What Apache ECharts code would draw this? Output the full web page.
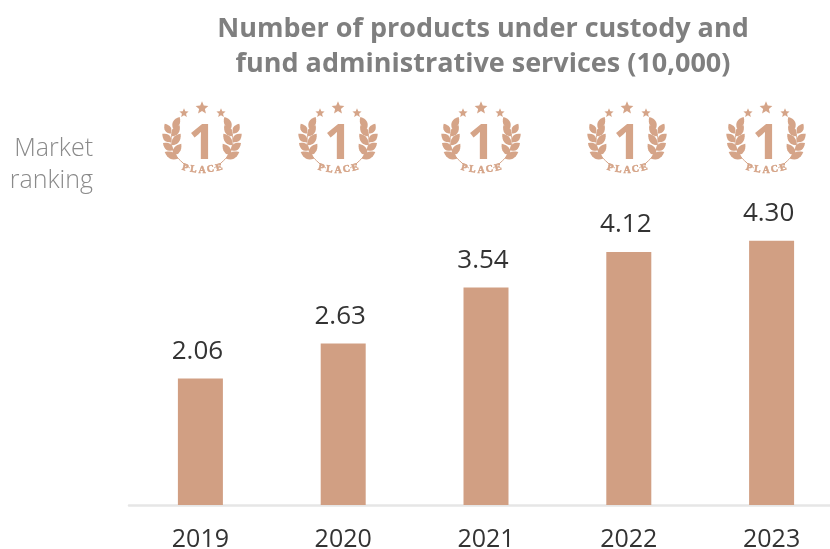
<!DOCTYPE html>
<html>
<head>
<meta charset="utf-8">
<style>html,body{margin:0;padding:0;background:#fff}#chart{width:830px;height:549px}</style>
<script src="https://cdn.jsdelivr.net/npm/echarts@6/dist/echarts.min.js"></script>
</head>
<body>
<div id="chart"></div>
<script>
// Products under custody and fund administration, in units of 10,000
const years = ['2019', '2020', '2021', '2022', '2023'];
const products = [2.06, 2.63, 3.54, 4.12, 4.30];
const rankings = ['1', '1', '1', '1', '1'];
const badgeCentres = [203, 339, 482, 628, 767];

const BAR = '#d19f83';
const BADGE = '#d5a488';
const FONT = '"Open Sans", sans-serif';

// One laurel leaf from base to tip, outlined by two quadratic curves
function leaf(x, y, tipX, tipY, width) {
  const dx = tipX - x, dy = tipY - y;
  const len = Math.hypot(dx, dy);
  const nx = -dy / len, ny = dx / len;
  const points = [];
  const steps = 8;
  const edge = (t, side) => {
    const b = 2 * t * (1 - t) * width * side;
    const along = 2 * t * (1 - t) * 0.45 + t * t;
    return [x + dx * along + nx * b, y + dy * along + ny * b];
  };
  for (let i = 0; i <= steps; i++) points.push(edge(i / steps, 1));
  for (let i = steps - 1; i > 0; i--) points.push(edge(i / steps, -1));
  return { type: 'polygon', shape: { points }, style: { fill: BADGE } };
}

// Five-pointed star as a polygon
function star(x, y, r) {
  const points = [];
  for (let i = 0; i < 10; i++) {
    const a = -Math.PI / 2 + i * Math.PI / 5;
    const d = i % 2 ? r * 0.45 : r;
    points.push([x + d * Math.cos(a), y + d * Math.sin(a)]);
  }
  return { type: 'polygon', shape: { points }, style: { fill: BADGE } };
}

// Left half of the wreath: base and tip of each leaf, relative to the badge centre
const wreathLeaves = [
  [-30, -13.3, -23.3, -25, 7],
  [-32.3, -8.3, -38.3, -18.3, 6.5],
  [-31, -5.7, -23.3, -16.7, 7],
  [-31.7, 0, -40.7, -8.3, 7],
  [-31, 3.3, -22.3, -8.3, 7],
  [-30, 8.3, -40, 1, 7],
  [-30, 13.3, -21.7, 1.7, 7],
  [-25, 16.7, -38.3, 10, 7]
];
const stemPoints = [[-30, -13], [-32, 0], [-28, 12], [-20, 21], [-13, 26]];
const placeLetters = [['P', -17, 25.7, -15], ['L', -8.5, 27.3, -8], ['A', 0, 28, 0], ['C', 8.5, 27.3, 8], ['E', 17, 25.7, 15]];

function badge(cx, label) {
  const children = [
    star(-1, -34, 6.7), star(-19, -29, 4.8), star(18, -29, 4.8),
    { type: 'text', style: { x: -1, y: 3, text: label, fill: BADGE, font: '700 48px ' + FONT, align: 'center', verticalAlign: 'middle' } }
  ];
  wreathLeaves.forEach(([x, y, tx, ty, w]) => {
    children.push(leaf(x, y, tx, ty, w), leaf(-x - 2, y, -tx - 2, ty, w));
  });
  [1, -1].forEach(side => {
    children.push({
      type: 'polyline',
      shape: { points: stemPoints.map(([x, y]) => [side > 0 ? x : -x - 2, y]), smooth: 0.4 },
      style: { fill: 'none', stroke: BADGE, lineWidth: 1 }
    });
  });
  placeLetters.forEach(([ch, x, y, deg]) => {
    children.push({
      type: 'text', x: x - 1, y, rotation: deg * Math.PI / 180,
      style: { x: 0, y: 0, text: ch, fill: BADGE, stroke: BADGE, lineWidth: 0.5, font: '700 10px "Liberation Serif", serif', align: 'center', verticalAlign: 'middle' }
    });
  });
  return { type: 'group', x: cx, y: 142, children };
}

const chart = echarts.init(document.getElementById('chart'), null, { renderer: 'canvas' });
chart.setOption({
  animation: false,
  backgroundColor: '#fff',
  title: {
    text: 'Number of products under custody and\nfund administrative services (10,000)',
    left: 478, top: 7, textAlign: 'center',
    textStyle: { fontFamily: FONT, fontSize: 27, fontWeight: 700, color: '#7f7f7f', lineHeight: 35 }
  },
  // The last band runs past the right edge, so the axis line reaches the border
  grid: { left: 129, right: -13, top: 75, bottom: 44, outerBoundsMode: 'none' },
  xAxis: {
    type: 'category', data: years,
    axisTick: { show: false },
    axisLine: { lineStyle: { color: '#e6e6e6', width: 2.5 } },
    axisLabel: { fontFamily: FONT, fontSize: 25, color: '#333', margin: 22, hideOverlap: false }
  },
  yAxis: { type: 'value', min: 0, max: 7, show: false, splitLine: { show: false } },
  series: [{
    type: 'bar', data: products, barWidth: 45,
    itemStyle: { color: BAR },
    label: {
      show: true, position: 'top', distance: 14, offset: [-3, 0],
      formatter: p => p.value.toFixed(2),
      fontFamily: FONT, fontSize: 26, color: '#333'
    }
  }],
  graphic: [
    { type: 'text', x: 93, y: 149, style: { text: 'Market', fill: '#8a8a8a', font: '300 25px ' + FONT, align: 'right', verticalAlign: 'middle' } },
    { type: 'text', x: 93, y: 181, style: { text: 'ranking', fill: '#8a8a8a', font: '300 25px ' + FONT, align: 'right', verticalAlign: 'middle' } },
    ...badgeCentres.map((x, i) => badge(x, rankings[i]))
  ]
});
</script>
</body>
</html>
